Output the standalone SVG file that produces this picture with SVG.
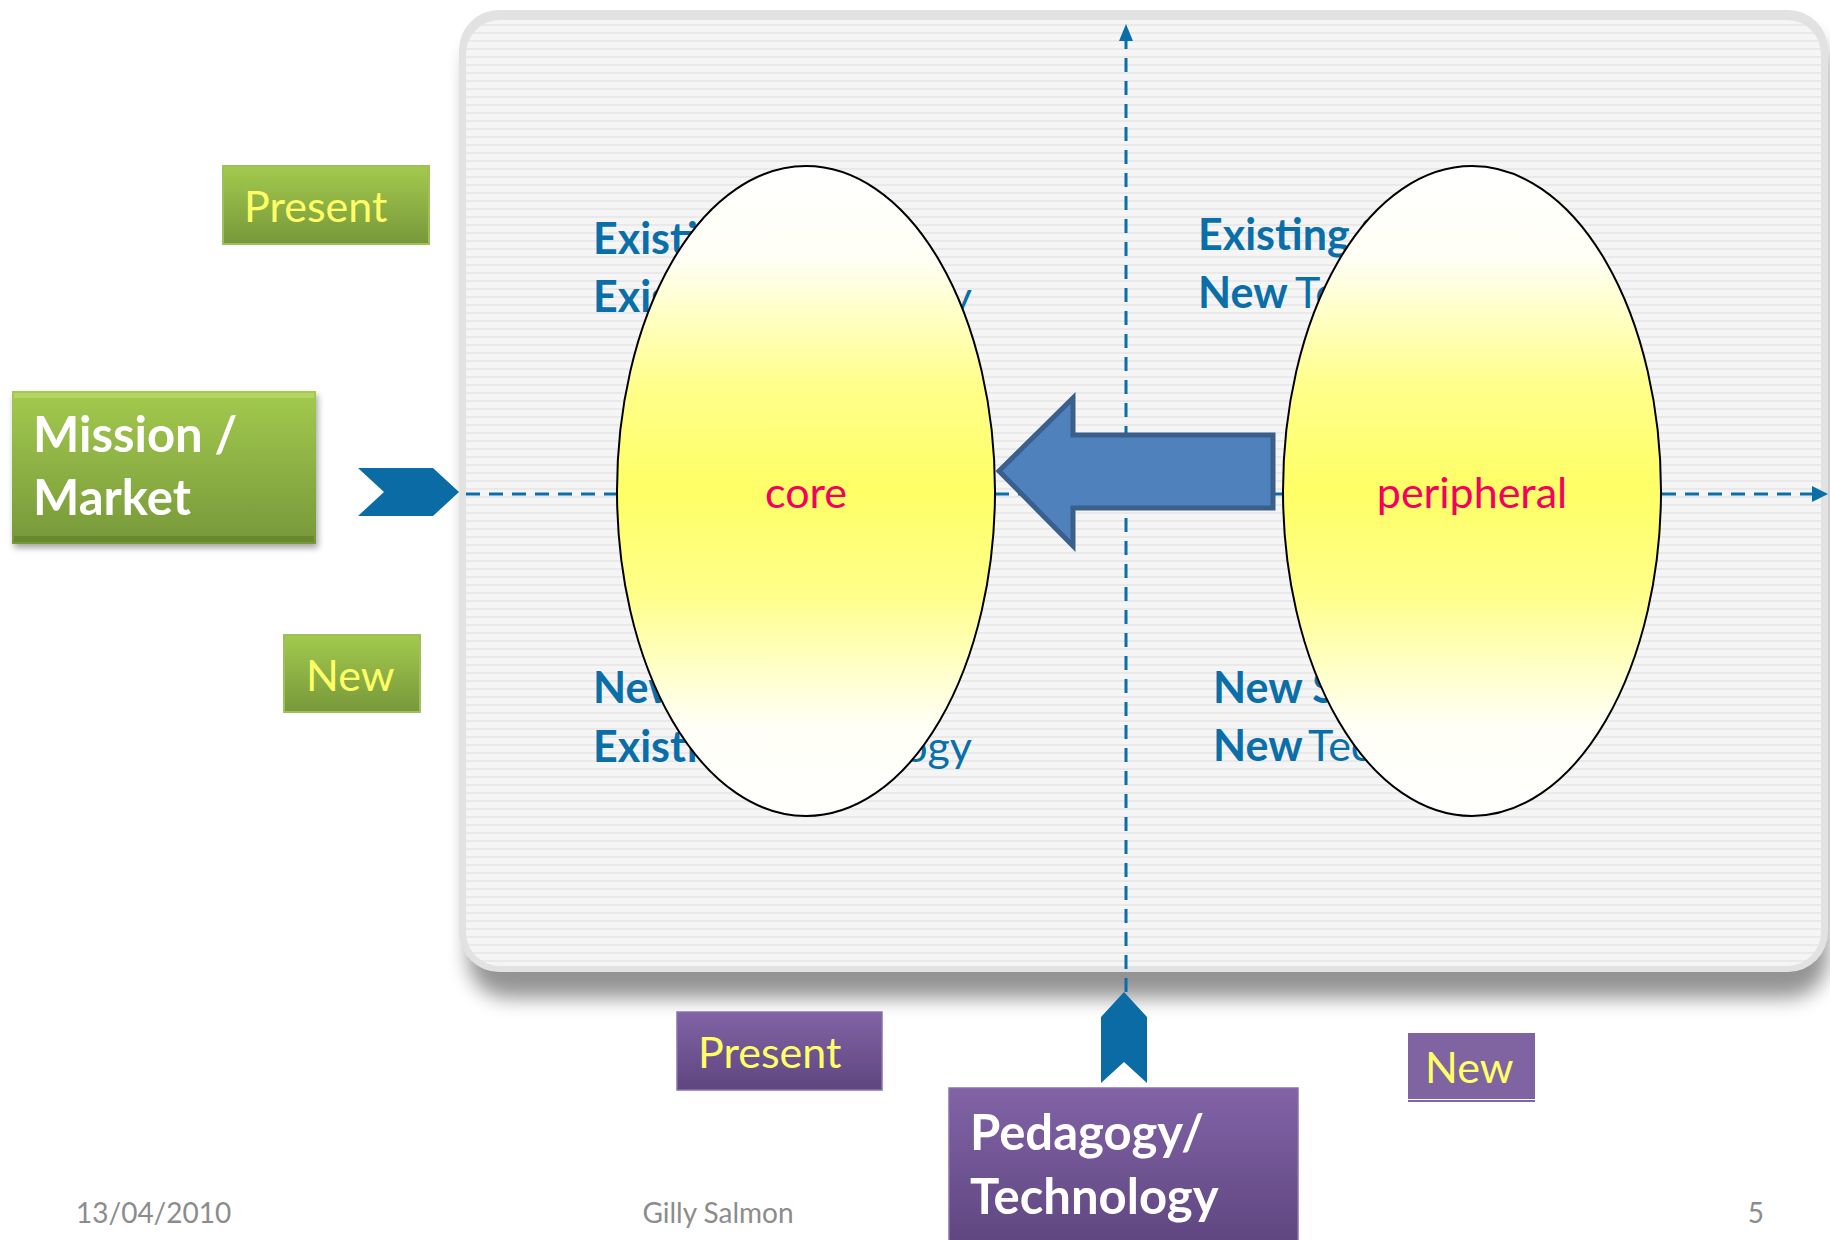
<svg xmlns="http://www.w3.org/2000/svg" width="1830" height="1240" viewBox="0 0 1830 1240">
<defs>
<style>
.lbl{font-family:Lato,"Open Sans",sans-serif;font-size:43px;fill:#ffff66}
.head{font-family:Lato,"Open Sans",sans-serif;font-weight:700;font-size:49px;fill:#ffffff}
.q{font-family:Lato,"Open Sans",sans-serif;font-size:43px;fill:#0a6fa9}
.qb{font-weight:700}
.oval{font-family:Lato,"Open Sans",sans-serif;font-size:43px;fill:#f5005f;text-anchor:middle}
.foot{font-family:Lato,"Open Sans",sans-serif;font-size:28px;fill:#8c8c8c}
.axis{stroke:#0a6fa9;stroke-width:3;stroke-dasharray:14 9;fill:none}
.ahd{fill:#0a6fa9}
.ell{fill:url(#gEll);stroke:#000;stroke-width:2}
.chev{fill:#0a6ba5}
</style>
<linearGradient id="gGreen" x1="0" y1="0" x2="0" y2="1">
<stop offset="0" stop-color="#a3ca4e"/><stop offset="1" stop-color="#77983a"/>
</linearGradient>
<linearGradient id="gPurple" x1="0" y1="0" x2="0" y2="1">
<stop offset="0" stop-color="#8163a6"/><stop offset="1" stop-color="#5e457f"/>
</linearGradient>
<linearGradient id="gEll" x1="0" y1="0" x2="0" y2="1">
<stop offset="0" stop-color="#ffffff"/><stop offset="0.14" stop-color="#fffff6"/>
<stop offset="0.34" stop-color="#ffff8a"/><stop offset="0.5" stop-color="#ffff66"/>
<stop offset="0.66" stop-color="#ffff8a"/><stop offset="0.86" stop-color="#fffff6"/>
<stop offset="1" stop-color="#ffffff"/>
</linearGradient>
<pattern id="stripes" width="12" height="8" patternUnits="userSpaceOnUse">
<rect width="12" height="8" fill="#f5f5f5"/><rect y="0" width="12" height="2" fill="#e9e9e9"/>
</pattern>
<filter id="blur" x="-5%" y="-5%" width="110%" height="115%"><feGaussianBlur stdDeviation="10"/></filter>
<filter id="sh" x="-10%" y="-10%" width="125%" height="130%"><feDropShadow dx="2" dy="4" stdDeviation="3" flood-color="#000" flood-opacity="0.35"/></filter>
</defs>
<rect width="1830" height="1240" fill="#ffffff"/>

<g id="panel">
<rect x="468" y="30" width="1360" height="968" rx="40" fill="#000" opacity="0.42" filter="url(#blur)"/>
<rect x="459" y="10" width="1369" height="962" rx="40" fill="#e2e2e2"/>
<rect x="466" y="20" width="1355" height="946" rx="34" fill="url(#stripes)"/>
</g>

<g id="quadrant-text">
<text class="q qb" x="593" y="254">Existing Students</text>
<text class="q" y="312"><tspan class="qb" x="593">Existing</tspan><tspan x="972" text-anchor="end">Technology</tspan></text>
<text class="q qb" x="1198" y="250">Existing Students</text>
<text class="q" y="308"><tspan class="qb" x="1198">New</tspan><tspan x="1295">Technology</tspan></text>
<text class="q qb" x="1213" y="703">New Students</text>
<text class="q" y="761"><tspan class="qb" x="1213">New</tspan><tspan x="1308">Technology</tspan></text>
<text class="q qb" x="593" y="703">New Students</text>
<text class="q" y="762"><tspan class="qb" x="593">Existing</tspan><tspan x="972" text-anchor="end">Technology</tspan></text>
</g>

<g id="connectors">
<path class="axis" d="M466,494 H1814"/>
<path class="ahd" d="M1828,494 L1812,486 L1812,502 Z"/>
<path class="axis" d="M1126,992 V38"/>
<path class="ahd" d="M1126,24 L1119,41 L1133,41 Z"/>
<path class="chev" d="M358,468 L433,468 L459,492 L433,516 L358,516 L384,492 Z"/>
<path class="chev" d="M1124,992 L1147,1017 L1147,1083 L1124,1062 L1101,1083 L1101,1017 Z"/>
</g>

<g id="core">
<ellipse class="ell" cx="806" cy="491" rx="189" ry="325"/>
<text class="oval" x="806" y="508">core</text>
</g>
<g id="peripheral">
<ellipse class="ell" cx="1472" cy="491" rx="189" ry="325"/>
<text class="oval" x="1472" y="508">peripheral</text>
</g>

<g id="shift-arrow">
<path d="M999,471 L1073,398 L1073,435 L1273,435 L1273,508 L1073,508 L1073,546 Z" fill="#4f81bd" stroke="#3a5f8c" stroke-width="5" stroke-linejoin="miter"/>
</g>

<g id="present-green">
<rect x="223" y="166" width="206" height="78" fill="url(#gGreen)" stroke="#9dc15a" stroke-width="2"/>
<text class="lbl" x="244" y="222">Present</text>
</g>
<g id="mission-market">
<rect x="12" y="391" width="304" height="153" fill="url(#gGreen)" filter="url(#sh)"/>
<rect x="14" y="393" width="300" height="5" fill="#b6d86a" opacity="0.8"/>
<rect x="14" y="536" width="300" height="6" fill="#5f7d2a" opacity="0.6"/>
<text class="head" x="33" y="452">Mission /</text>
<text class="head" x="33" y="515">Market</text>
</g>
<g id="new-green">
<rect x="284" y="635" width="136" height="77" fill="url(#gGreen)" stroke="#9dc15a" stroke-width="2"/>
<text class="lbl" x="306" y="691">New</text>
</g>

<g id="present-purple">
<rect x="677" y="1012" width="205" height="78" fill="url(#gPurple)" stroke="#8a72aa" stroke-width="1.5"/>
<text class="lbl" x="698" y="1068">Present</text>
</g>
<g id="new-purple">
<rect x="1408" y="1033" width="127" height="66" fill="#8064a2"/>
<rect x="1408" y="1100" width="127" height="2" fill="#8064a2"/>
<text class="lbl" x="1425" y="1083">New</text>
</g>
<g id="pedagogy-technology">
<rect x="949" y="1088" width="349" height="160" fill="url(#gPurple)" stroke="#8a72aa" stroke-width="1.5"/>
<text class="head" x="970" y="1150">Pedagogy/</text>
<text class="head" x="970" y="1214">Technology</text>
</g>

<g id="footer">
<text class="foot" x="76" y="1223">13/04/2010</text>
<text class="foot" x="718" y="1223" text-anchor="middle">Gilly Salmon</text>
<text class="foot" x="1764" y="1223" text-anchor="end">5</text>
</g>
</svg>
